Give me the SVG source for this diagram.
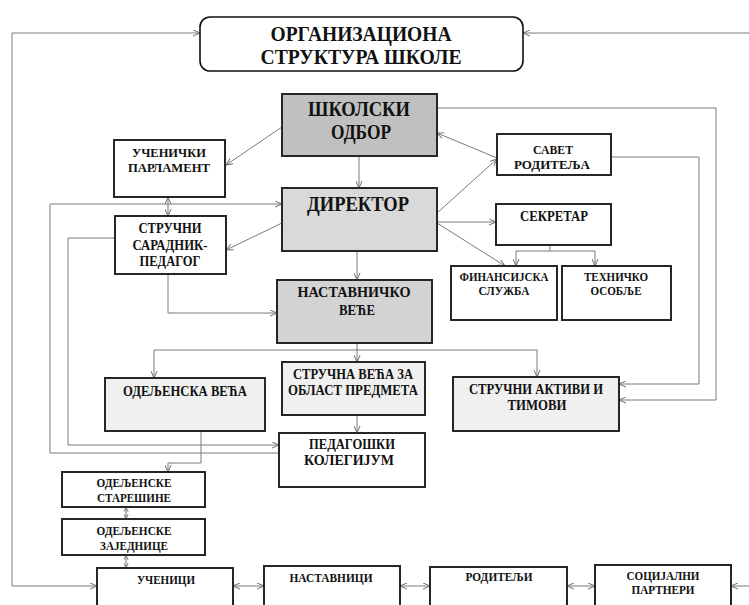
<svg xmlns="http://www.w3.org/2000/svg" width="749" height="605" viewBox="0 0 749 605">
<style>
.b{stroke:#262626;stroke-width:2;fill:#fff}
.g1{fill:#c0c0c0}.g2{fill:#d9d9d9}.g3{fill:#d3d3d3}.g4{fill:#f0f0f0}
text{font-family:"Liberation Serif","Times New Roman","DejaVu Serif",serif;font-weight:bold;fill:#111;text-anchor:middle}
.c path{fill:none;stroke:#7a7a7a;stroke-width:1}
.e{marker-end:url(#a)}
.d{marker-start:url(#a);marker-end:url(#a)}
.s{marker-start:url(#sm);marker-end:url(#sm)}
</style>
<defs>
<marker id="a" viewBox="0 0 8 8" refX="8" refY="4" markerWidth="7" markerHeight="7" markerUnits="userSpaceOnUse" orient="auto-start-reverse"><path d="M0,0.5 L8,4 L0,7.5" fill="none" stroke="#6a6a6a" stroke-width="1.1"/></marker>
<marker id="sm" viewBox="0 0 8 8" refX="8" refY="4" markerWidth="5" markerHeight="5" markerUnits="userSpaceOnUse" orient="auto-start-reverse"><path d="M0,0.5 L8,4 L0,7.5" fill="none" stroke="#6a6a6a" stroke-width="1.3"/></marker>
</defs>
<rect width="749" height="605" fill="#fff"/>
<g class="c" id="connectors">
<path class="d" d="M97,586 H12 V33 H200"/>
<path class="e" d="M749,33 H523"/>
<path class="e" d="M749,586 H731"/>
<path class="d" d="M233,586 H264"/>
<path class="d" d="M400,586 H430"/>
<path class="d" d="M567,586 H595"/>
<path class="e" d="M359,157 V188"/>
<path class="e" d="M282,127 L226,165"/>
<path class="e" d="M497,158 L437,133"/>
<path class="e" d="M437,213 L497,159"/>
<path class="e" d="M437,108 H716 V400 H619"/>
<path class="e" d="M611,157 H699 V384 H619"/>
<path class="e" d="M437,222 H496"/>
<path class="e" d="M437,223 L505,266"/>
<path d="M550,245 V251 M516,251 H595"/>
<path class="e" d="M516,251 V266"/>
<path class="e" d="M595,251 V266"/>
<path class="d" d="M168,197 V216"/>
<path class="e" d="M279,453 H50 V204 H282"/>
<path class="e" d="M115,238 H68 V445 H279"/>
<path class="e" d="M282,223 L226,250"/>
<path class="e" d="M168,274 V313 H277"/>
<path class="e" d="M357,251 V280"/>
<path class="e" d="M357,343 V362"/>
<path d="M154,350 H537"/>
<path class="e" d="M154,350 V378"/>
<path class="e" d="M537,350 V377"/>
<path class="e" d="M357,415 V433"/>
<path class="e" d="M201,431 V463 H168 V472"/>
<path class="s" d="M126,507 V519"/>
<path class="s" d="M126,555 V568"/>
</g>
<g id="title"><rect x="200" y="17" width="323" height="54" rx="10" fill="#fff" stroke="#111" stroke-width="1.6"/>
<text x="361" y="41" font-size="20.5" textLength="181" lengthAdjust="spacingAndGlyphs">ОРГАНИЗАЦИОНА</text>
<text x="361" y="64" font-size="20.5" textLength="201" lengthAdjust="spacingAndGlyphs">СТРУКТУРА ШКОЛЕ</text></g>
<g id="skolski"><rect class="b g1" x="282" y="94" width="155" height="62"/>
<text x="359" y="116" font-size="20.5" textLength="102" lengthAdjust="spacingAndGlyphs">ШКОЛСКИ</text>
<text x="361" y="139" font-size="20.5" textLength="60" lengthAdjust="spacingAndGlyphs">ОДБОР</text></g>
<g id="parlament"><rect class="b" x="114" y="140" width="111" height="57"/>
<text x="169" y="157" font-size="13.5" textLength="74" lengthAdjust="spacingAndGlyphs">УЧЕНИЧКИ</text>
<text x="169" y="172" font-size="13.5" textLength="82" lengthAdjust="spacingAndGlyphs">ПАРЛАМЕНТ</text></g>
<g id="direktor"><rect class="b g2" x="282" y="188" width="155" height="63"/>
<text x="358" y="211" font-size="22" textLength="102" lengthAdjust="spacingAndGlyphs">ДИРЕКТОР</text></g>
<g id="saradnik"><rect class="b" x="115" y="216" width="111" height="58"/>
<text x="170" y="233" font-size="14" textLength="63" lengthAdjust="spacingAndGlyphs">СТРУЧНИ</text>
<text x="170" y="250" font-size="14" textLength="75" lengthAdjust="spacingAndGlyphs">САРАДНИК-</text>
<text x="170" y="266" font-size="14" textLength="61" lengthAdjust="spacingAndGlyphs">ПЕДАГОГ</text></g>
<g id="nastavnicko"><rect class="b g3" x="277" y="280" width="155" height="63"/>
<text x="354" y="297" font-size="15.5" textLength="113" lengthAdjust="spacingAndGlyphs">НАСТАВНИЧКО</text>
<text x="357" y="315" font-size="15.5" textLength="36" lengthAdjust="spacingAndGlyphs">ВЕЋЕ</text></g>
<g id="savet"><rect class="b" x="497" y="134" width="114" height="41"/>
<text x="553" y="154" font-size="13.5" textLength="40" lengthAdjust="spacingAndGlyphs">САВЕТ</text>
<text x="552" y="169" font-size="13.5" textLength="76" lengthAdjust="spacingAndGlyphs">РОДИТЕЉА</text></g>
<g id="sekretar"><rect class="b" x="496" y="204" width="115" height="41"/>
<text x="554" y="221" font-size="14.5" textLength="68" lengthAdjust="spacingAndGlyphs">СЕКРЕТАР</text></g>
<g id="finansijska"><rect class="b" x="451" y="266" width="106" height="54"/>
<text x="504" y="281" font-size="13" textLength="89" lengthAdjust="spacingAndGlyphs">ФИНАНСИЈСКА</text>
<text x="504" y="295" font-size="13" textLength="51" lengthAdjust="spacingAndGlyphs">СЛУЖБА</text></g>
<g id="tehnicko"><rect class="b" x="562" y="266" width="109" height="54"/>
<text x="616" y="281" font-size="13" textLength="64" lengthAdjust="spacingAndGlyphs">ТЕХНИЧКО</text>
<text x="616" y="295" font-size="13" textLength="51" lengthAdjust="spacingAndGlyphs">ОСОБЉЕ</text></g>
<g id="odeljenska-veca"><rect class="b g4" x="105" y="378" width="160" height="53"/>
<text x="185" y="396" font-size="14.5" textLength="124" lengthAdjust="spacingAndGlyphs">ОДЕЉЕНСКА ВЕЋА</text></g>
<g id="strucna-veca"><rect class="b g4" x="282" y="362" width="143" height="53"/>
<text x="353" y="379" font-size="14.5" textLength="120" lengthAdjust="spacingAndGlyphs">СТРУЧНА ВЕЋА ЗА</text>
<text x="353" y="395" font-size="14.5" textLength="130" lengthAdjust="spacingAndGlyphs">ОБЛАСТ ПРЕДМЕТА</text></g>
<g id="pedagoski"><rect class="b" x="279" y="433" width="146" height="54"/>
<text x="352" y="449" font-size="14.5" textLength="86" lengthAdjust="spacingAndGlyphs">ПЕДАГОШКИ</text>
<text x="349" y="465" font-size="14.5" textLength="90" lengthAdjust="spacingAndGlyphs">КОЛЕГИЈУМ</text></g>
<g id="aktivi"><rect class="b g4" x="453" y="377" width="166" height="54"/>
<text x="536" y="394" font-size="14.5" textLength="134" lengthAdjust="spacingAndGlyphs">СТРУЧНИ АКТИВИ И</text>
<text x="537" y="410" font-size="14.5" textLength="59" lengthAdjust="spacingAndGlyphs">ТИМОВИ</text></g>
<g id="staresine"><rect class="b" x="62" y="472" width="143" height="35"/>
<text x="134" y="487" font-size="13" textLength="75" lengthAdjust="spacingAndGlyphs">ОДЕЉЕНСКЕ</text>
<text x="134" y="502" font-size="13" textLength="74" lengthAdjust="spacingAndGlyphs">СТАРЕШИНЕ</text></g>
<g id="zajednice"><rect class="b" x="62" y="519" width="143" height="36"/>
<text x="134" y="535" font-size="13" textLength="75" lengthAdjust="spacingAndGlyphs">ОДЕЉЕНСКЕ</text>
<text x="134" y="550" font-size="13" textLength="68" lengthAdjust="spacingAndGlyphs">ЗАЈЕДНИЦЕ</text></g>
<g id="ucenici"><rect class="b" x="97" y="568" width="136" height="45"/>
<text x="166" y="584" font-size="13.5" textLength="58" lengthAdjust="spacingAndGlyphs">УЧЕНИЦИ</text></g>
<g id="nastavnici"><rect class="b" x="264" y="566" width="136" height="47"/>
<text x="331" y="582" font-size="13.5" textLength="83" lengthAdjust="spacingAndGlyphs">НАСТАВНИЦИ</text></g>
<g id="roditelji"><rect class="b" x="430" y="567" width="137" height="46"/>
<text x="499" y="581" font-size="13.5" textLength="67" lengthAdjust="spacingAndGlyphs">РОДИТЕЉИ</text></g>
<g id="socijalni"><rect class="b" x="595" y="565" width="136" height="48"/>
<text x="663" y="580" font-size="13.5" textLength="73" lengthAdjust="spacingAndGlyphs">СОЦИЈАЛНИ</text>
<text x="663" y="594" font-size="13.5" textLength="63" lengthAdjust="spacingAndGlyphs">ПАРТНЕРИ</text></g>
</svg>
